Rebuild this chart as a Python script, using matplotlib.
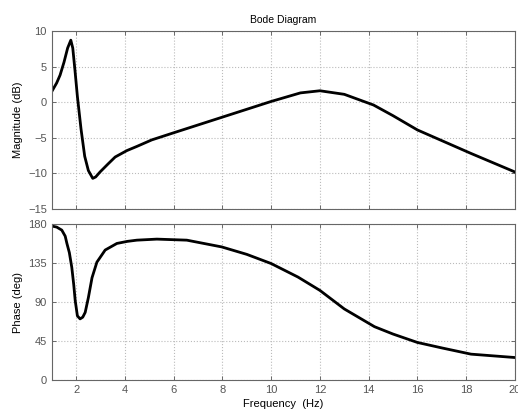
import matplotlib.pyplot as plt

# magnitude curve
mag_freq = [1.0, 1.2, 1.34, 1.5, 1.65, 1.78, 1.86, 1.95, 2.05, 2.2, 2.35, 2.5, 2.68, 2.8, 2.98,
            3.3, 3.6, 4.08, 4.5, 4.9, 5.1, 6.0, 7.0, 8.0, 9.0, 10.0, 11.2, 12.0, 13.0, 14.2,
            15.0, 16.0, 17.0, 18.2, 20.0]
mag_db = [1.5, 2.7, 3.8, 5.6, 7.6, 8.7, 7.6, 4.5, 0.8, -3.8, -7.6, -9.6, -10.7, -10.5, -9.8,
          -8.7, -7.7, -6.8, -6.2, -5.6, -5.3, -4.3, -3.2, -2.1, -1.0, 0.1, 1.3, 1.6, 1.1, -0.4,
          -1.9, -3.9, -5.4, -7.2, -9.8]

# phase curve
ph_freq = [1.0, 1.2, 1.41, 1.55, 1.62, 1.72, 1.82, 1.9, 1.96, 2.05, 2.16, 2.27, 2.37, 2.5, 2.65,
           2.85, 3.19, 3.67, 4.1, 4.49, 5.31, 6.54, 7.97, 9.0, 10.0, 11.1, 12.0, 13.0, 14.24,
           15.0, 16.0, 17.0, 18.2, 20.0]
ph_deg = [177.7, 176.5, 173.0, 166.0, 157.6, 147.0, 130.0, 110.0, 91.7, 74.0, 70.5, 72.5, 78.0, 95.0, 118.0,
          136.0, 150.0, 157.6, 160.0, 161.4, 162.6, 161.4, 153.6, 145.0, 134.4, 118.8, 103.4, 82.0, 61.5,
          53.0, 43.3, 37.0, 29.8, 25.9]

mag_ticks = [-15, -10, -5, 0, 5, 10]
ph_ticks = [0, 45, 90, 135, 180]
freq_ticks = [2, 4, 6, 8, 10, 12, 14, 16, 18, 20]

plt.rcParams['font.family'] = ['Liberation Sans', 'DejaVu Sans']

fig = plt.figure(figsize=(5.18, 4.18), dpi=100)
ax1 = fig.add_axes([0.100, 0.500, 0.894, 0.426])
ax2 = fig.add_axes([0.100, 0.091, 0.894, 0.373])

tick_col = '#555555'
for ax in (ax1, ax2):
    ax.set_xlim(1, 20)
    ax.set_xticks(freq_ticks)
    ax.grid(True, color='#bbbbbb', linestyle=':', linewidth=0.8)
    ax.tick_params(direction='in', length=3, top=True, right=True, labelsize=8,
                   colors=tick_col, width=0.6)
    for s in ax.spines.values():
        s.set_color('#666666')
        s.set_linewidth(0.8)

ax1.plot(mag_freq, mag_db, color='black', linewidth=2)
ax1.set_ylim(-15, 10)
ax1.set_yticks(mag_ticks)
ax1.tick_params(labelbottom=False)
ax1.set_ylabel('Magnitude (dB)', fontsize=8)
ax1.set_title('Bode Diagram', fontsize=7.5, pad=6)

ax2.plot(ph_freq, ph_deg, color='black', linewidth=2)
ax2.set_ylim(0, 180)
ax2.set_yticks(ph_ticks)
ax2.set_ylabel('Phase (deg)', fontsize=8)
ax2.set_xlabel('Frequency  (Hz)', fontsize=8, labelpad=3)

fig.savefig('out.png', dpi=100)
